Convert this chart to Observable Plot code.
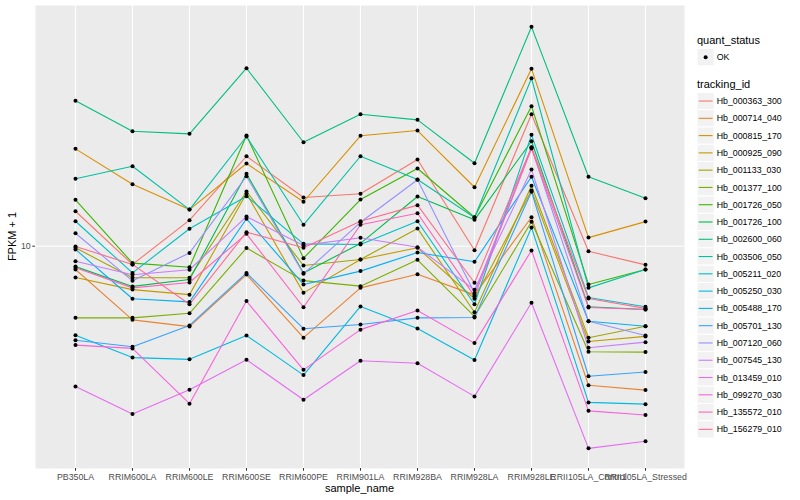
<!DOCTYPE html>
<html><head><meta charset="utf-8">
<script src="https://cdn.jsdelivr.net/npm/d3@7"></script>
<script src="https://cdn.jsdelivr.net/npm/@observablehq/plot@0.6"></script>
<style>
body{margin:0;background:#fff;}
#chart svg{font-family:"Liberation Sans",Arial,Helvetica,sans-serif;}
</style>
</head><body><div id="chart"></div>
<script>
const samples = ["PB350LA","RRIM600LA","RRIM600LE","RRIM600SE","RRIM600PE","RRIM901LA","RRIM928BA","RRIM928LA","RRIM928LE","RRII105LA_Control","RRII105LA_Stressed"];
const trackingIds = ["Hb_000363_300","Hb_000714_040","Hb_000815_170","Hb_000925_090","Hb_001133_030","Hb_001377_100","Hb_001726_050","Hb_001726_100","Hb_002600_060","Hb_003506_050","Hb_005211_020","Hb_005250_030","Hb_005488_170","Hb_005701_130","Hb_007120_060","Hb_007545_130","Hb_013459_010","Hb_099270_030","Hb_135572_010","Hb_156279_010"];
const palette = ["#F8766D","#EA8331","#D89000","#C09B00","#A3A500","#7CAE00","#39B600","#00BB4E","#00BF7D","#00C1A3","#00BFC4","#00BAE0","#00B0F6","#35A2FF","#9590FF","#C77CFF","#E76BF3","#FA62DB","#FF62BC","#FF6C90"];
const quantStatus = ["OK"];
const yTicks = [10];

// FPKM + 1 per sample, in the order of `samples`
const Hb_000363_300 = [11.91, 9.13, 11.39, 15.68, 12.76, 13.00, 15.43, 9.80, 19.35, 9.75, 9.11];
const Hb_000714_040 = [8.90, 6.92, 6.69, 8.68, 6.33, 8.12, 8.69, 7.84, 11.56, 4.99, 4.87];
const Hb_000815_170 = [16.27, 13.63, 12.01, 15.12, 12.49, 17.37, 17.83, 13.43, 24.28, 10.44, 11.31];
const Hb_000925_090 = [8.55, 8.05, 7.85, 13.01, 7.92, 9.36, 9.92, 7.69, 13.21, 6.21, 6.37];
const Hb_001133_030 = [9.92, 8.54, 8.54, 13.15, 9.08, 9.36, 10.93, 7.19, 13.53, 6.33, 6.70];
const Hb_001377_100 = [6.99, 6.99, 7.15, 9.91, 8.42, 8.19, 9.34, 7.04, 11.30, 5.90, 5.89];
const Hb_001726_050 = [12.61, 9.19, 9.00, 17.39, 9.42, 12.63, 14.75, 11.56, 20.14, 8.26, 8.90];
const Hb_001726_100 = [9.03, 8.18, 8.47, 14.36, 8.75, 10.14, 12.82, 11.41, 16.90, 7.39, 7.29];
const Hb_002600_060 = [20.69, 17.77, 17.54, 24.35, 16.82, 19.35, 18.81, 15.14, 29.95, 14.15, 12.71];
const Hb_003506_050 = [14.01, 14.92, 12.01, 17.31, 11.13, 15.68, 13.96, 11.54, 23.16, 8.12, 8.90];
const Hb_005211_020 = [11.33, 8.75, 10.91, 12.84, 10.12, 10.09, 11.33, 7.48, 17.45, 7.74, 7.39];
const Hb_005250_030 = [6.41, 5.73, 5.68, 6.40, 5.25, 7.40, 6.63, 5.66, 10.98, 4.58, 4.54];
const Hb_005488_170 = [9.84, 7.69, 7.57, 11.47, 8.26, 8.83, 9.69, 9.25, 14.15, 6.87, 6.70];
const Hb_005701_130 = [6.25, 6.05, 6.73, 8.75, 6.62, 6.76, 6.99, 7.00, 13.13, 5.22, 5.33];
const Hb_007120_060 = [10.67, 8.41, 9.67, 14.19, 8.71, 11.27, 13.94, 7.91, 16.38, 6.87, 6.40];
const Hb_007545_130 = [9.28, 8.67, 8.89, 11.60, 10.04, 10.43, 9.95, 8.04, 14.67, 6.02, 6.19];
const Hb_013459_010 = [4.96, 4.32, 4.88, 5.67, 4.64, 5.64, 5.57, 4.72, 7.54, 3.64, 3.77];
const Hb_099270_030 = [6.10, 6.00, 4.55, 7.60, 5.39, 6.59, 7.25, 6.16, 9.79, 4.39, 4.30];
const Hb_135572_010 = [8.98, 8.12, 8.34, 10.64, 7.37, 11.13, 11.79, 7.79, 16.30, 7.36, 7.29];
const Hb_156279_010 = [9.99, 9.13, 7.48, 10.73, 9.92, 11.33, 12.28, 8.33, 16.40, 7.70, 7.33];

const seriesValues = [Hb_000363_300,Hb_000714_040,Hb_000815_170,Hb_000925_090,Hb_001133_030,Hb_001377_100,Hb_001726_050,Hb_001726_100,Hb_002600_060,Hb_003506_050,Hb_005211_020,Hb_005250_030,Hb_005488_170,Hb_005701_130,Hb_007120_060,Hb_007545_130,Hb_013459_010,Hb_099270_030,Hb_135572_010,Hb_156279_010];

const data = [];
trackingIds.forEach((id, i) => {
  samples.forEach((s, j) => data.push({tracking_id: id, sample_name: s, fpkm: seriesValues[i][j], quant_status: quantStatus[0]}));
});

const W = 800, H = 500, ML = 35, MR = 116, MT = 5, MB = 32;
const chart = Plot.plot({
  width: W, height: H,
  marginLeft: ML, marginRight: MR, marginTop: MT, marginBottom: MB,
  style: {background: "white", overflow: "visible"},
  x: {type: "point", domain: samples, padding: 0.6, axis: null},
  y: {type: "log", domain: [3.291, 33.32], axis: null},
  color: {domain: trackingIds, range: palette},
  marks: [
    Plot.frame({fill: "#EBEBEB", stroke: "none"}),
    Plot.ruleX(samples, {x: d => d, stroke: "white", strokeWidth: 1.1}),
    Plot.ruleY(yTicks, {y: d => d, stroke: "white", strokeWidth: 1.1}),
    Plot.line(data, {x: "sample_name", y: "fpkm", z: "tracking_id", stroke: "tracking_id", strokeWidth: 1.1}),
    Plot.dot(data, {x: "sample_name", y: "fpkm", r: 2, fill: "black", stroke: "none"}),
    Plot.axisX({tickSize: 2.75, tickPadding: 2, fontSize: 8.8, stroke: "#333333", fill: "#4D4D4D", label: null}),
    Plot.axisY(yTicks, {tickSize: 2.75, tickPadding: 2, fontSize: 8.8, stroke: "#333333", fill: "#4D4D4D", tickFormat: d => String(d), label: null})
  ]
});
document.getElementById("chart").appendChild(chart);

const svg = d3.select(chart);
const font = "'Liberation Sans',Arial,Helvetica,sans-serif";
// axis titles
svg.append("text").attr("x", (ML + W - MR) / 2).attr("y", 492).attr("text-anchor", "middle")
  .attr("font-size", 11).attr("font-family", font).attr("fill", "black").text("sample_name");
svg.append("text").attr("transform", `translate(16,${(MT + H - MB) / 2}) rotate(-90)`).attr("text-anchor", "middle")
  .attr("font-size", 11).attr("font-family", font).attr("fill", "black").text("FPKM + 1");

// legends
const lg = svg.append("g").attr("font-family", font).attr("fill", "black").attr("text-anchor", "start");
const kx = 697, ks = 17.28, tx = 716.7;
lg.append("text").attr("x", kx).attr("y", 44).attr("font-size", 11).attr("text-anchor", "start").text("quant_status");
lg.append("rect").attr("x", kx).attr("y", 48.5).attr("width", ks).attr("height", ks).attr("fill", "#F2F2F2").attr("stroke", "white");
lg.append("circle").attr("cx", kx + ks / 2).attr("cy", 48.5 + ks / 2).attr("r", 2).attr("fill", "black");
lg.append("text").attr("x", tx).attr("y", 48.5 + ks / 2).attr("dy", "0.35em").attr("font-size", 8.8).attr("text-anchor", "start").text(quantStatus[0]);
lg.append("text").attr("x", kx).attr("y", 87.5).attr("font-size", 11).attr("text-anchor", "start").text("tracking_id");
trackingIds.forEach((id, i) => {
  const y0 = 92.4 + i * ks;
  lg.append("rect").attr("x", kx).attr("y", y0).attr("width", ks).attr("height", ks).attr("fill", "#F2F2F2").attr("stroke", "white");
  lg.append("line").attr("x1", kx + 1.7).attr("x2", kx + ks - 1.7).attr("y1", y0 + ks / 2).attr("y2", y0 + ks / 2)
    .attr("stroke", palette[i]).attr("stroke-width", 1.1);
  lg.append("text").attr("x", tx).attr("y", y0 + ks / 2).attr("dy", "0.35em").attr("font-size", 8.8).attr("text-anchor", "start").text(id);
});
</script>
</body></html>
